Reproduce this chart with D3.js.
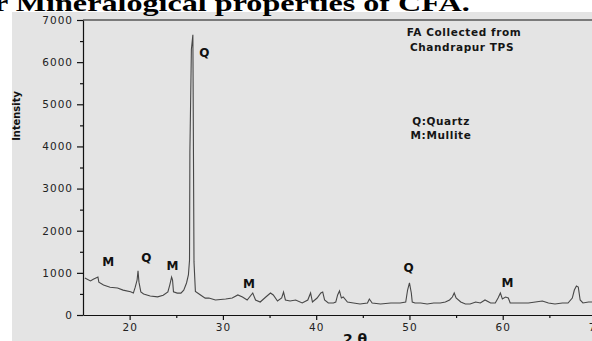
<!DOCTYPE html>
<html>
<head>
<meta charset="utf-8">
<script src="https://cdn.jsdelivr.net/npm/d3@7"></script>
<style>
  body { margin: 0; background: #fff; }
  svg { display: block; }
</style>
</head>
<body>
<svg id="chart" width="592" height="341"></svg>
<script>
// XRD pattern: 2θ (degrees) and intensity (counts)
const twoTheta = [15.2, 15.8, 16.1, 16.6, 16.7, 17.2, 17.9, 18.7, 19.3, 20.1, 20.4, 20.6, 20.8, 20.9, 21.0, 21.2,
  21.5, 22.2, 23.0, 23.6, 24.1, 24.3, 24.5, 24.6, 24.7, 25.1, 25.5, 25.8, 26.1, 26.3, 26.42, 26.46, 26.62, 26.78,
  26.9, 27.05, 27.6, 28.1, 28.5, 29.2, 30.3, 31.0, 31.6, 32.1, 32.6, 33.2, 33.5, 34.0, 34.6, 35.1, 35.4, 35.85,
  36.3, 36.5, 36.7, 37.2, 37.8, 38.5, 39.1, 39.4, 39.6, 40.1, 40.5, 40.7, 40.9, 41.3, 41.85, 42.1, 42.3, 42.5,
  42.7, 42.9, 43.35, 44.0, 44.7, 45.5, 45.7, 46.0, 46.9, 48.0, 49.0, 49.6, 49.8, 50.0, 50.2, 50.3, 50.6, 51.2,
  51.9, 52.6, 53.3, 53.85, 54.3, 54.6, 54.8, 55.0, 55.5, 56.0, 56.5, 57.1, 57.6, 58.1, 58.7, 59.2, 59.5, 59.75,
  59.96, 60.3, 60.6, 60.8, 61.35, 62.1, 62.75, 63.5, 64.25, 64.9, 65.6, 66.4, 67.0, 67.46, 67.68, 67.9, 68.1,
  68.3, 68.6, 69.2, 69.6, 70.0];
const intensity = [880, 810, 850, 900, 780, 710, 660, 640, 590, 550, 520, 660, 830, 1050, 780, 550,
  500, 450, 430, 470, 550, 710, 900, 830, 550, 520, 520, 590, 760, 950, 1300, 3870, 6300, 6650,
  1260, 560, 475, 400, 403, 356, 380, 403, 475, 427, 356, 522, 356, 308, 427, 522, 475, 332,
  403, 546, 356, 332, 356, 285, 356, 522, 308, 403, 522, 546, 356, 285, 285, 308, 475, 570,
  403, 427, 308, 285, 261, 285, 380, 285, 261, 285, 285, 308, 593, 760, 522, 308, 285, 285,
  261, 285, 285, 308, 356, 427, 522, 403, 308, 261, 261, 308, 285, 356, 285, 285, 403, 522,
  380, 427, 403, 285, 285, 285, 285, 308, 332, 285, 261, 285, 285, 403, 593, 688, 664,
  356, 285, 308, 308, 300];

// phase markers over the peaks
const peakNames = ["M", "Q", "M", "Q", "M", "Q", "M"];
const peakX = [17.7, 21.8, 24.6, 28.0, 32.8, 49.9, 60.5];
const peakY = [1260, 1350, 1160, 6220, 740, 1110, 760];

const xTicks = [20, 30, 40, 50, 60, 70];
const yTicks = [0, 1000, 2000, 3000, 4000, 5000, 6000, 7000];

const svg = d3.select("#chart");

// gray panel of the scanned figure
svg.append("rect")
  .attr("x", 12).attr("y", 12)
  .attr("width", 580).attr("height", 329)
  .attr("fill", "#e4e4e4");

// caption above the figure (cut off at the left and top)
svg.append("text")
  .attr("transform", "translate(-6,11) scale(1.34,1)")
  .attr("font-family", "Liberation Serif")
  .attr("font-weight", "bold")
  .attr("font-size", 24)
  .attr("fill", "#000")
  .text("r Mineralogical properties of CFA.");

const x = d3.scaleLinear().domain([15, 70]).range([83, 596]);
const y = d3.scaleLinear().domain([0, 7000]).range([315, 20]);

// top frame line
svg.append("line")
  .attr("x1", x(15)).attr("x2", x(70))
  .attr("y1", y(7000)).attr("y2", y(7000))
  .attr("stroke", "#111").attr("stroke-width", 1.2);

// minor ticks
const xAxisMinor = d3.axisBottom(x).tickValues([25, 35, 45, 55, 65]).tickSize(3).tickFormat("");
svg.append("g").attr("transform", `translate(0,${y(0)})`).call(xAxisMinor)
  .call(g => g.select(".domain").remove());
const yAxisMinor = d3.axisLeft(y).tickValues([500, 1500, 2500, 3500, 4500, 5500, 6500]).tickSize(3).tickFormat("");
svg.append("g").attr("transform", `translate(${x(15)},0)`).call(yAxisMinor)
  .call(g => g.select(".domain").remove());

const xAxis = d3.axisBottom(x).tickValues(xTicks).tickSize(5).tickSizeOuter(0).tickPadding(4)
  .tickFormat(d3.format("d"));
svg.append("g")
  .attr("transform", `translate(0,${y(0)})`)
  .call(xAxis);

const yAxis = d3.axisLeft(y).tickValues(yTicks).tickSize(6).tickSizeOuter(0).tickPadding(4)
  .tickFormat(d3.format("d"));
svg.append("g")
  .attr("transform", `translate(${x(15)},0)`)
  .call(yAxis);

svg.selectAll(".tick text")
  .attr("font-family", "DejaVu Sans")
  .attr("font-size", 10.5)
  .attr("letter-spacing", 1)
  .attr("fill", "#222");
svg.selectAll(".domain, .tick line").attr("stroke", "#111").attr("stroke-width", 1.2);

// diffraction pattern
const pts = twoTheta.map((t, i) => [t, intensity[i]]);
svg.append("path")
  .datum(pts)
  .attr("fill", "none")
  .attr("stroke", "#474747")
  .attr("stroke-width", 1.1)
  .attr("d", d3.line().x(d => x(d[0])).y(d => y(d[1])));

// peak markers
svg.selectAll(".peak")
  .data(peakNames)
  .enter().append("text")
  .attr("class", "peak")
  .attr("x", (d, i) => x(peakX[i]))
  .attr("y", (d, i) => y(peakY[i]))
  .attr("dy", "0.35em")
  .attr("text-anchor", "middle")
  .attr("font-family", "DejaVu Sans")
  .attr("font-weight", "bold")
  .attr("font-size", 12)
  .attr("fill", "#111")
  .text(d => d);

// annotations
const notes = [
  { t: "FA Collected from", x: 464, y: 36 },
  { t: "Chandrapur TPS", x: 462, y: 51 },
  { t: "Q:Quartz", x: 441, y: 125 },
  { t: "M:Mullite", x: 441, y: 139 }
];
svg.selectAll(".note")
  .data(notes)
  .enter().append("text")
  .attr("class", "note")
  .attr("x", d => d.x)
  .attr("y", d => d.y)
  .attr("text-anchor", "middle")
  .attr("font-family", "DejaVu Sans")
  .attr("font-weight", "bold")
  .attr("font-size", 10.5)
  .attr("letter-spacing", 0.6)
  .attr("fill", "#151515")
  .text(d => d.t);

// axis titles
svg.append("text")
  .attr("transform", "translate(20,116) rotate(-90)")
  .attr("text-anchor", "middle")
  .attr("font-family", "DejaVu Sans Condensed")
  .attr("font-weight", "bold")
  .attr("font-size", 11)
  .attr("fill", "#111")
  .text("Intensity");

svg.append("text")
  .attr("x", 355).attr("y", 344)
  .attr("text-anchor", "middle")
  .attr("font-family", "DejaVu Sans")
  .attr("font-weight", "bold")
  .attr("font-size", 14)
  .attr("fill", "#111")
  .text("2 θ");
</script>
</body>
</html>
